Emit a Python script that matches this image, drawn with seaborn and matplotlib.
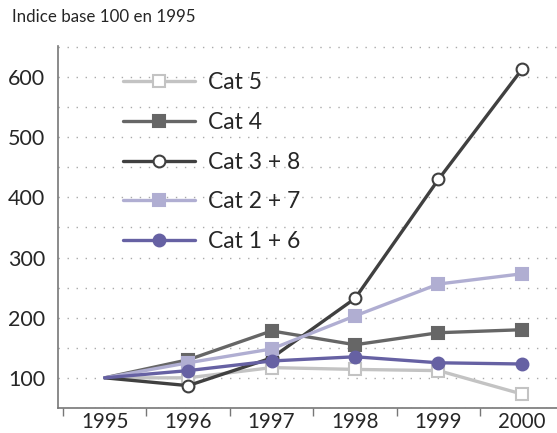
import pandas as pd
import seaborn as sns
import matplotlib.pyplot as plt
from matplotlib.lines import Line2D

years = ['1995', '1996', '1997', '1998', '1999', '2000']
cat5 = [100, 100, 117, 114, 112, 73]
cat4 = [100, 130, 178, 155, 175, 180]
cat38 = [100, 87, 133, 232, 430, 613]
cat27 = [100, 125, 148, 203, 256, 273]
cat16 = [100, 112, 128, 135, 125, 123]

names = ['Cat 5', 'Cat 4', 'Cat 3 + 8', 'Cat 2 + 7', 'Cat 1 + 6']
series = [cat5, cat4, cat38, cat27, cat16]
colors = ['#c3c3c3', '#666666', '#404040', '#b0aed2', '#6661a3']
markers = ['s', 's', 'o', 's', 'o']
filled = [False, True, False, True, True]

sns.set_style('white')
plt.rcParams['font.family'] = ['Lato', 'DejaVu Sans']

fig = plt.figure(figsize=(5.57, 4.33), dpi=100)
ax = fig.add_axes([0.104, 0.058, 0.896, 0.836])

handles = []
for name, vals, c, m, f in zip(names, series, colors, markers, filled):
    df = pd.DataFrame({'x': range(len(years)), 'y': vals})
    mfc = c if f else 'white'
    # no marker on the base year
    sns.lineplot(data=df, x='x', y='y', ax=ax, color=c, lw=2.4, marker=m,
                 markevery=list(range(1, len(years))),
                 markersize=8.5, markerfacecolor=mfc, markeredgecolor=c, markeredgewidth=1.5)
    handles.append(Line2D([], [], color=c, lw=2.4, marker=m, markersize=8.5,
                          markerfacecolor=mfc, markeredgecolor=c, markeredgewidth=1.5))

ax.set_xlim(-0.56, 5.42)
ax.set_ylim(50, 652)
ax.set_yticks([100, 200, 300, 400, 500, 600])
ax.set_yticks(range(50, 651, 50), minor=True)
ax.grid(True, axis='y', which='both', color='#aaaaaa', ls=(0, (1, 5.5)), lw=1.0)

ax.set_xticks([x - 0.5 for x in range(6)])
ax.set_xticklabels([])
ax.set_xticks(range(6), minor=True)
ax.set_xticklabels(years, minor=True, fontsize=14.8)
ax.tick_params(axis='x', which='major', length=6, width=1, color='#777777', direction='out', bottom=True)
ax.tick_params(axis='x', which='minor', length=0, pad=3)
ax.tick_params(axis='y', which='both', length=0, labelsize=15.5, pad=9)
ax.set_xlabel('')
ax.set_ylabel('')

for s in ['top', 'right']:
    ax.spines[s].set_visible(False)
for s in ['left', 'bottom']:
    ax.spines[s].set_color('#777777')
    ax.spines[s].set_linewidth(1.2)

ax.legend(handles, names, loc='upper left', bbox_to_anchor=(0.09, 0.985), frameon=False,
          fontsize=16.5, handlelength=3.1, handletextpad=0.6, labelspacing=0.82)

fig.text(0.021, 0.96, 'Indice base 100 en 1995', fontsize=12.2, va='center')

fig.savefig('out.png', dpi=100)
